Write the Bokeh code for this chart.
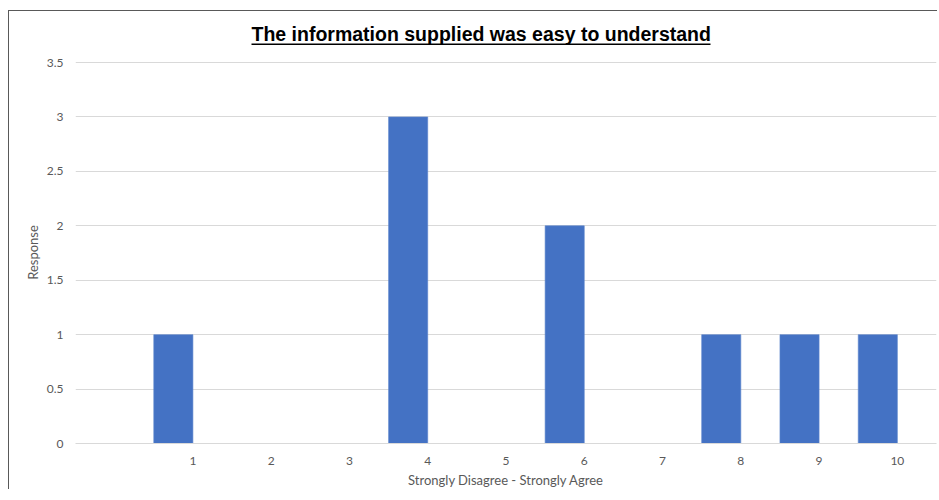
from bokeh.plotting import figure
from bokeh.models import Range1d, FixedTicker, ColumnDataSource, BoxAnnotation, Label
from bokeh.embed import file_html
from bokeh.resources import INLINE

title_text = "The information supplied was easy to understand"
categories = ["1", "2", "3", "4", "5", "6", "7", "8", "9", "10"]
responses = [1, 0, 0, 3, 0, 2, 0, 1, 1, 1]
y_ticks = [0, 0.5, 1, 1.5, 2, 2.5, 3, 3.5]
y_tick_labels = ["0", "0.5", "1", "1.5", "2", "2.5", "3", "3.5"]
x_title = "Strongly Disagree - Strongly Agree"
y_title = "Response"

n_slots = len(categories) + 1
slot = list(range(1, len(categories) + 1))
bar_x = [s + 0.25 for s in slot]
tick_x = [s + 0.5 for s in slot]

src = ColumnDataSource(dict(x=bar_x, top=responses, cat=categories))

# frame reaches to the top of the chart so that the title lives inside it;
# headroom above the 3.5 gridline keeps the value axis where it belongs
Y_TOP = 3.5 * 432 / 381

p = figure(width=929, height=479, output_backend="svg", toolbar_location=None,
           x_range=Range1d(0, n_slots), y_range=Range1d(0, Y_TOP),
           min_border_left=66, min_border_right=2, min_border_top=0, min_border_bottom=0)
p.styles = {"border-left": "1px solid #595959", "border-top": "1px solid #595959",
            "margin-top": "10px", "margin-left": "8px"}
p.outline_line_color = None
p.background_fill_color = "white"
p.border_fill_color = "white"

FONT = "Lato"
GRID = "#d9d9d9"
LBL = "#595959"

# title with underline (screen units, relative to the plot frame)
p.add_layout(Label(x=176, y=410, x_units="screen", y_units="screen", text=title_text,
                   text_font="Liberation Sans", text_font_size="19.5px",
                   text_font_style="bold", text_color="#000000",
                   text_baseline="alphabetic", text_align="left"))
p.add_layout(BoxAnnotation(left=176, right=635, top=400, bottom=398.5,
                           left_units="screen", right_units="screen",
                           top_units="screen", bottom_units="screen",
                           fill_color="black", fill_alpha=1, line_color=None,
                           level="overlay"))

p.vbar(x="x", top="top", width=0.5, bottom=0, source=src,
       fill_color="#4472C4", line_color="#5b84cc", line_width=0.6)

p.xaxis.ticker = FixedTicker(ticks=tick_x)
p.xaxis.major_label_overrides = {t: c for t, c in zip(tick_x, categories)}
p.xaxis.axis_line_color = GRID
p.xaxis.major_tick_line_color = None
p.xaxis.major_tick_out = 0
p.xaxis.major_tick_in = 0
p.xaxis.minor_tick_line_color = None
p.xaxis.major_label_text_font = FONT
p.xaxis.major_label_text_font_size = "12px"
p.xaxis.major_label_text_color = LBL
p.xaxis.major_label_standoff = 13
p.xaxis.axis_label = x_title
p.xaxis.axis_label_text_font = FONT
p.xaxis.axis_label_text_font_size = "13px"
p.xaxis.axis_label_text_font_style = "normal"
p.xaxis.axis_label_text_color = LBL
p.xaxis.axis_label_standoff = 4
p.xgrid.grid_line_color = None

p.yaxis.ticker = FixedTicker(ticks=y_ticks)
p.yaxis.major_label_overrides = {t: l for t, l in zip(y_ticks, y_tick_labels)}
p.yaxis.axis_line_color = None
p.yaxis.major_tick_line_color = None
p.yaxis.major_tick_out = 0
p.yaxis.major_tick_in = 0
p.yaxis.minor_tick_line_color = None
p.yaxis.major_label_text_font = FONT
p.yaxis.major_label_text_font_size = "12px"
p.yaxis.major_label_text_color = LBL
p.yaxis.major_label_standoff = 12
# trailing no-break spaces keep the rotated title centred on the 0..3.5 span
p.yaxis.axis_label = y_title + "\u00a0" * 15
p.yaxis.axis_label_text_font = FONT
p.yaxis.axis_label_text_font_size = "13px"
p.yaxis.axis_label_text_font_style = "normal"
p.yaxis.axis_label_text_color = LBL
p.yaxis.axis_label_standoff = 3
p.ygrid.grid_line_color = GRID
p.ygrid.grid_line_width = 1

open("out.html", "w").write(file_html(p, INLINE))
